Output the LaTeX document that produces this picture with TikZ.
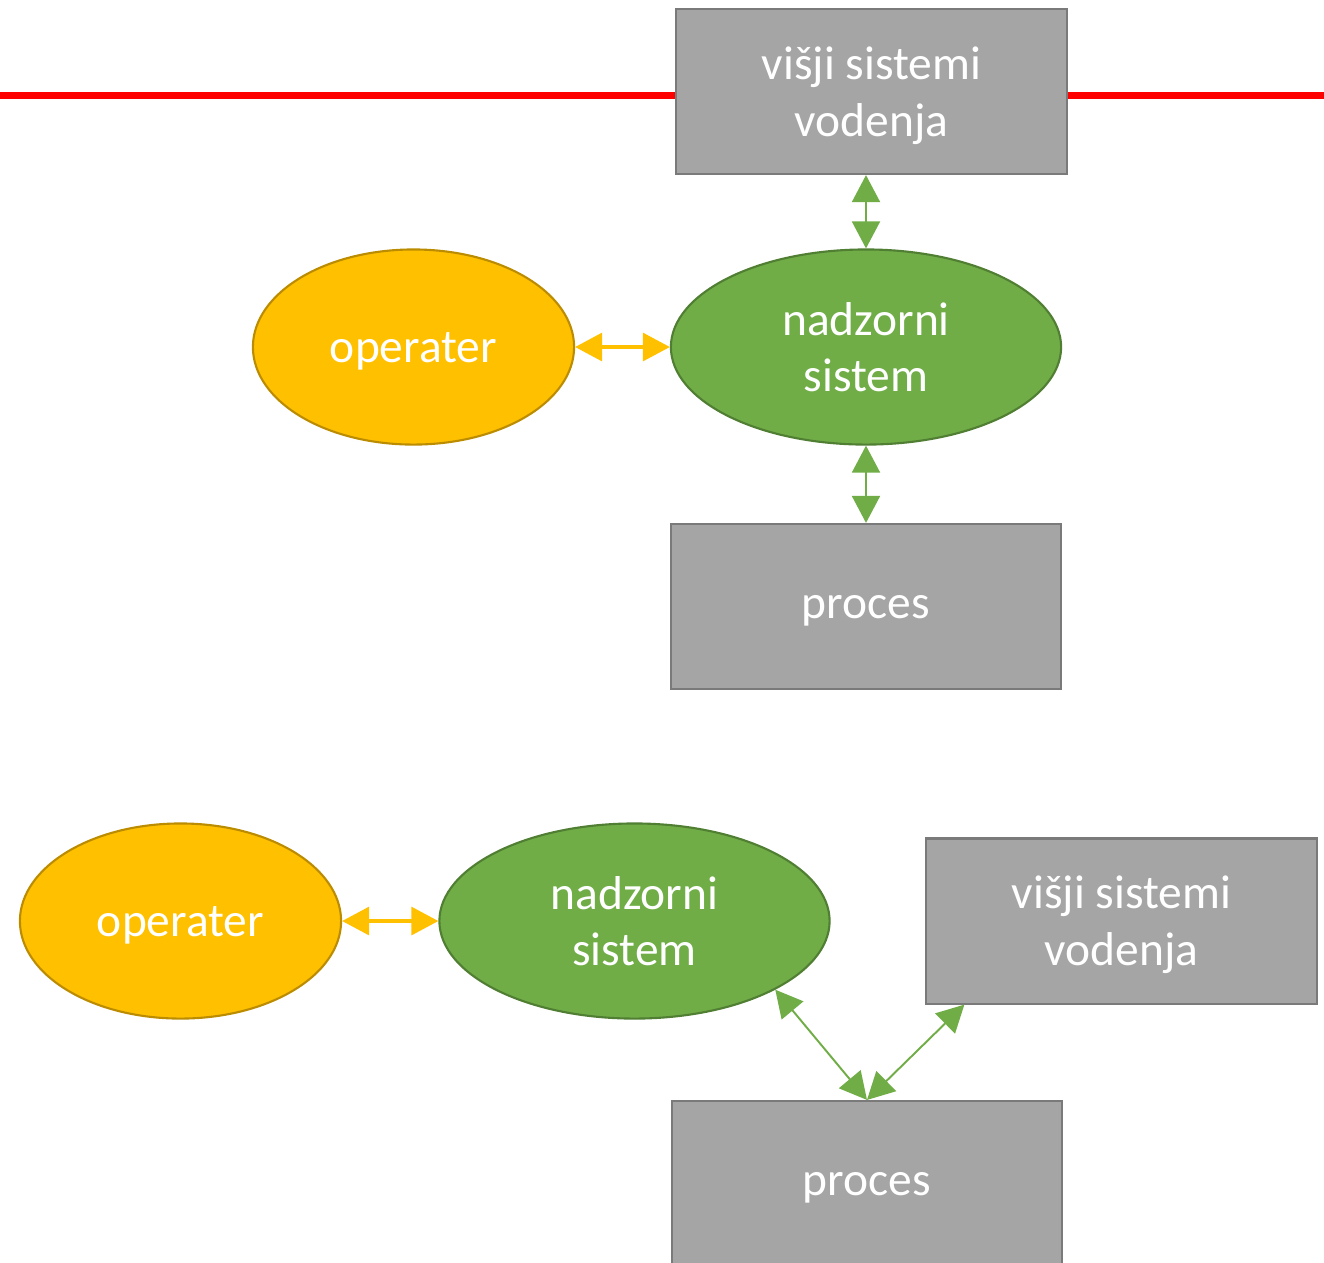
\documentclass[tikz,border=0pt]{standalone}
\usepackage{fontspec}
\setmainfont{Carlito}
\definecolor{BoxGray}{RGB}{165, 165, 165}
\definecolor{BoxEdge}{RGB}{122, 122, 122}
\definecolor{NadGreen}{RGB}{112, 173, 71}
\definecolor{NadEdge}{RGB}{80, 126, 50}
\definecolor{OpYellow}{RGB}{255, 192, 0}
\definecolor{OpEdge}{RGB}{188, 140, 0}
\definecolor{LineRed}{RGB}{255, 0, 0}
\usetikzlibrary{arrows.meta, positioning, shapes, calc}

\tikzset{
  block/.style={draw=BoxEdge, line width=0.6pt, fill=BoxGray, text=white, align=center,
    minimum width=3.9cm, minimum height=1.65cm, inner sep=0pt, text depth=0pt},
  nadzor/.style={ellipse, draw=NadEdge, line width=0.6pt, fill=NadGreen, text=white, align=center,
    minimum width=3.9cm, minimum height=1.95cm, inner sep=0pt, text depth=0pt},
  oper/.style={ellipse, draw=OpEdge, line width=0.6pt, fill=OpYellow, text=white, align=center,
    minimum width=3.21cm, minimum height=1.95cm, inner sep=0pt, text depth=0pt},
  gline/.style={NadGreen, line width=0.55pt, {Triangle[length=2.7mm, width=2.8mm]}-{Triangle[length=2.7mm, width=2.8mm]}},
  yline/.style={OpYellow, line width=0.9pt, {Triangle[length=2.7mm, width=2.8mm]}-{Triangle[length=2.7mm, width=2.8mm]}}
}

\begin{document}
\begin{tikzpicture}[x=0.01cm, y=-0.01cm, font=\fontsize{13.5}{16.2}\selectfont]
  \useasboundingbox (0,0) rectangle (1324,1262);

  % Red border line
  \draw[LineRed, line width=2pt] (0,95) -- (1324,95);

  % Hierarchy, first layout
  \node[block] (vs1) at (871.5,91.5) {višji sistemi\\vodenja};
  \node[nadzor] (ns1) at (866,347) {nadzorni\\sistem};
  \node[oper] (op1) at (413.5,347) {operater};
  \node[block] (pr1) at (866,606.5) {proces};

  \draw[gline] (ns1.north) -- (ns1.north |- vs1.south);
  \draw[gline] (ns1.south) -- (ns1.south |- pr1.north);
  \draw[yline] (op1.east) -- (ns1.west);

  % Second layout
  \node[oper] (op2) at (180.5,921) {operater};
  \node[nadzor] (ns2) at (634.5,921) {nadzorni\\sistem};
  \node[block] (vs2) at (1121.5,921) {višji sistemi\\vodenja};
  \node[block] (pr2) at (867,1183.5) {proces};

  \draw[yline] (op2.east) -- (ns2.west);
  \draw[gline] (ns2.-26.6) -- (pr2.north);
  \draw[gline] ([xshift=0.39cm]vs2.south west) -- (pr2.north);
\end{tikzpicture}
\end{document}
